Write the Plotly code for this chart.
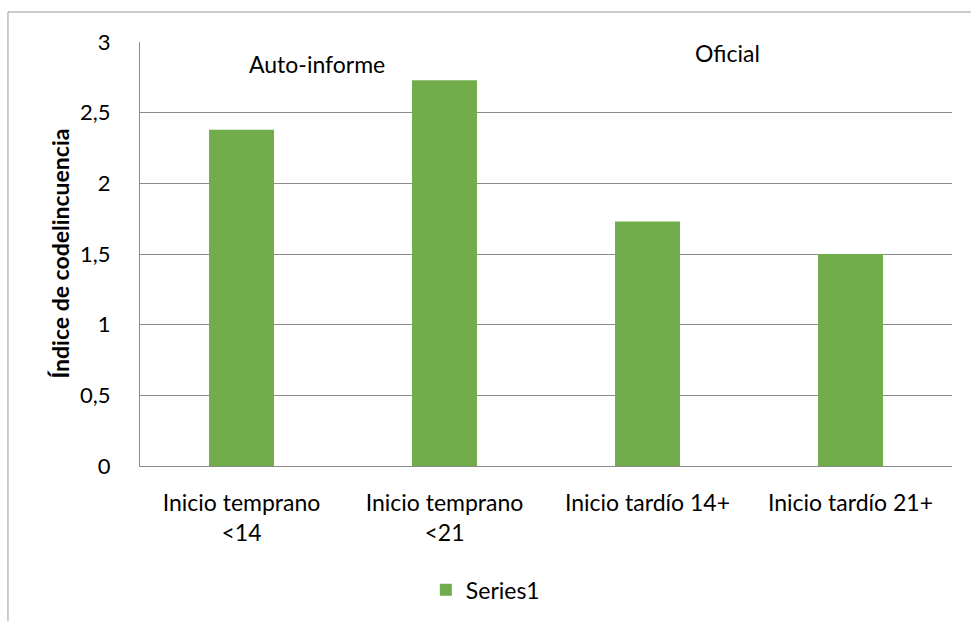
import plotly.graph_objects as go

categories = ["Inicio temprano<br><14", "Inicio temprano<br><21", "Inicio tardío 14+", "Inicio tardío 21+"]
values = [2.38, 2.73, 1.73, 1.50]
series_name = "Series1"
y_ticks = [0, 0.5, 1, 1.5, 2, 2.5, 3]
group_labels = ["Auto-informe", "Oficial"]
y_title = "Índice de codelincuencia"

FONT = "Lato"
FS = 23
fig = go.Figure()
fig.add_trace(go.Bar(
    x=categories, y=values, name=series_name,
    marker=dict(color="#70ad4a", line=dict(width=0)),
    width=0.32, showlegend=True,
))

fig.update_layout(
    width=971, height=621,
    margin=dict(l=140, r=19, t=42, b=155, autoexpand=False),
    paper_bgcolor="white", plot_bgcolor="white",
    separators=",.",
    font=dict(family=FONT, size=FS, color="#000000"),
    showlegend=True,
    legend=dict(orientation="h", x=0.352, y=-0.292, xanchor="left", yanchor="middle",
                font=dict(size=FS), itemwidth=30, bgcolor="rgba(0,0,0,0)"),
)
fig.update_yaxes(
    range=[0, 3], tickvals=y_ticks, showgrid=True, gridcolor="#8c8c8c", gridwidth=1,
    showline=True, linecolor="#8c8c8c", linewidth=1, zeroline=False,
    ticks="", ticklabelstandoff=24, tickfont=dict(size=22), automargin=False,
)
fig.update_xaxes(
    showline=True, linecolor="#8c8c8c", linewidth=1, ticks="",
    ticklabelstandoff=16, tickfont=dict(size=FS), tickangle=0, automargin=False,
)

fig.add_annotation(text=y_title, xref="paper", yref="paper", x=-0.099, y=0.5,
                   textangle=-90, showarrow=False, font=dict(size=FS, family=FONT, weight="bold"),
                   xanchor="center", yanchor="middle")
fig.add_annotation(text=group_labels[0], xref="paper", yref="y", x=0.218, y=2.845,
                   showarrow=False, font=dict(size=FS), xanchor="center", yanchor="middle")
fig.add_annotation(text=group_labels[1], xref="paper", yref="y", x=0.724, y=2.92,
                   showarrow=False, font=dict(size=FS), xanchor="center", yanchor="middle")

fig.add_shape(type="rect", xref="paper", yref="paper", x0=-0.1626, y0=-0.6, x1=1.2, y1=1.0708,
              line=dict(color="#9a9a9a", width=1), fillcolor="rgba(0,0,0,0)", layer="below")

fig.write_html("out.html")
